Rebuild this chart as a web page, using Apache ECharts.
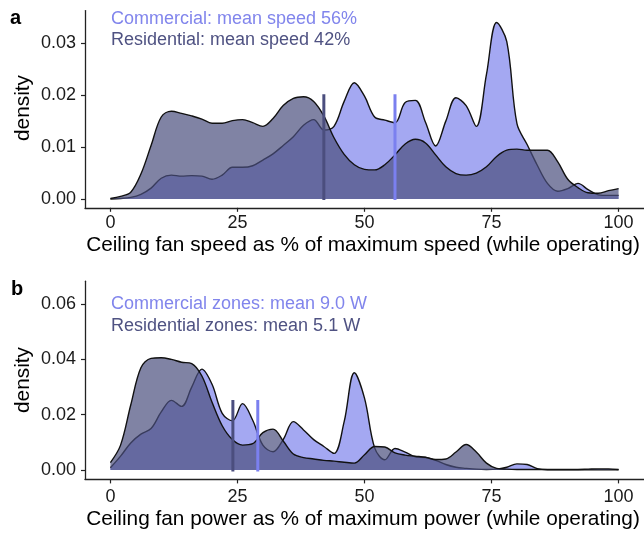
<!DOCTYPE html>
<html>
<head>
<meta charset="utf-8">
<script src="https://cdn.jsdelivr.net/npm/echarts@6/dist/echarts.min.js"></script>
<style>html,body{margin:0;padding:0;background:#fff}#c{width:644px;height:536px}</style>
</head>
<body>
<div id="c"></div>
<script>
// x positions (% of maximum) at which densities were read
const xs = [0,2,4,6,8,10,12,14,16,18,20,22,24,26,28,30,32,34,36,38,40,42,44,46,48,50,
  52,54,56,58,60,62,64,66,68,70,72,74,76,78,80,82,84,86,88,90,92,94,96,98,100];

// Panel a: speed densities
const comSpeed = [0,0.0001,0.0003,0.0009,0.0021,0.0040,0.0046,0.0044,0.0045,0.0044,0.0038,
  0.0046,0.0061,0.0061,0.0064,0.0075,0.0087,0.0103,0.0120,0.0142,0.0153,0.0133,0.0140,0.0188,
  0.0224,0.0198,0.0158,0.0152,0.0147,0.0186,0.0190,0.0148,0.0102,0.0150,0.0195,0.0180,0.0140,
  0.0240,0.0340,0.0303,0.0145,0.0105,0.0065,0.0030,0.0015,0.0020,0.0030,0.0018,0.0008,0.0007,0.0007];
const resSpeed = [0.0001,0.0005,0.0013,0.0048,0.0103,0.0158,0.0169,0.0165,0.0160,0.0154,0.0146,
  0.0146,0.0151,0.0153,0.0147,0.0140,0.0155,0.0180,0.0194,0.0197,0.0188,0.0160,0.0118,0.0086,
  0.0066,0.0057,0.0056,0.0066,0.0085,0.0106,0.0115,0.0108,0.0085,0.0062,0.0049,0.0046,0.0050,
  0.0062,0.0082,0.0094,0.0096,0.0094,0.0094,0.0094,0.0072,0.0038,0.0022,0.0012,0.0011,0.0016,0.0020];

// Panel b: power densities
const comPower = [0.0008,0.0050,0.0098,0.0130,0.0150,0.0210,0.0252,0.0230,0.0300,0.0365,0.0310,
  0.0205,0.0178,0.0240,0.0180,0.0090,0.0066,0.0110,0.0175,0.0145,0.0110,0.0085,0.0060,0.0175,
  0.0352,0.0260,0.0080,0.0037,0.0078,0.0065,0.0048,0.0045,0.0035,0.0020,0.0010,0.0006,0.0003,
  0.0002,0.0003,0.0010,0.0022,0.0020,0.0005,0.0001,0.0001,0.0001,0.0001,0.0001,0.0001,0.0001,0.0001];
const resPower = [0.0027,0.0090,0.0235,0.0370,0.0404,0.0406,0.0400,0.0390,0.0385,0.0340,0.0245,
  0.0160,0.0110,0.0090,0.0095,0.0135,0.0148,0.0105,0.0058,0.0045,0.0040,0.0035,0.0032,0.0028,
  0.0025,0.0055,0.0085,0.0083,0.0062,0.0054,0.0050,0.0046,0.0038,0.0040,0.0065,0.0092,0.0065,
  0.0025,0.0006,0.0003,0.0002,0.0002,0.0002,0.0002,0.0002,0.0002,0.0002,0.0003,0.0004,0.0004,0.0002];

// mean marker positions
const meanSpeed = {com: 56, res: 42, top: 0.0202};
const meanPower = {com: 29, res: 24.1, top: 0.0253};

const xTicks = [0,25,50,75,100];
const yTicksA = [0,0.01,0.02,0.03];
const yTicksB = [0,0.02,0.04,0.06];

const legendA = ['Commercial: mean speed 56%','Residential: mean speed 42%'];
const legendB = ['Commercial zones: mean 9.0 W','Residential zones: mean 5.1 W'];
const titleA = 'Ceiling fan speed as % of maximum speed (while operating)';
const titleB = 'Ceiling fan power as % of maximum power (while operating)';

const FONT = '"Liberation Sans", Arial, Helvetica, sans-serif';
const COM = '#7e83ec', RES = '#4a4e7d';
const COM_TXT = '#8185ec', RES_TXT = '#4f5282';

function pairs(ys){ return xs.map((x,i)=>[x, ys[i]]); }

function xAxis(g, margin){
  return {type:'value', gridIndex:g, min:-5, max:105,
    axisLine:{show:true, onZero:false, lineStyle:{color:'#222', width:1.3}},
    axisTick:{show:true, customValues:xTicks, length:4, lineStyle:{color:'#222', width:1.2}},
    axisLabel:{customValues:xTicks, margin:margin, color:'#1a1a1a', fontSize:18, fontFamily:FONT},
    splitLine:{show:false}};
}
function yAxis(g,min,max,ticks){
  return {type:'value', gridIndex:g, min:min, max:max,
    axisLine:{show:true, onZero:false, lineStyle:{color:'#222', width:1.3}},
    axisTick:{show:true, customValues:ticks, length:4, lineStyle:{color:'#222', width:1.2}},
    axisLabel:{customValues:ticks, margin:9, color:'#1a1a1a', fontSize:18, fontFamily:FONT,
      formatter:v=>v.toFixed(2)},
    splitLine:{show:false}};
}
function dens(name, ys, color, g, z){
  return {name:name, type:'line', xAxisIndex:g, yAxisIndex:g, data:pairs(ys),
    smooth:0.35, showSymbol:false, symbol:'none', z:z,
    lineStyle:{color:'#111', width:1.4},
    areaStyle:{color:color, opacity:0.7, origin:'auto'}, silent:true};
}
function meanLine(x, top, color, g, bottom){
  return {type:'line', xAxisIndex:g, yAxisIndex:g, data:[[x,bottom],[x,top]],
    showSymbol:false, symbol:'none', z:10, silent:true,
    lineStyle:{color:color, width:3, cap:'butt'}};
}
function txt(x,y,text,size,color,opts){
  opts = opts || {};
  const el = {type:'text', x:x, y:y, silent:true, z:100,
    style:{text:text, x:0, y:0, fontSize:size, fontFamily:FONT,
      fontWeight:opts.weight||'normal', fill:color,
      textAlign:opts.align||'left', textVerticalAlign:'middle',
      align:opts.align||'left', verticalAlign:'middle'}};
  if (opts.rotation) el.rotation = opts.rotation;
  return el;
}

const chart = echarts.init(document.getElementById('c'), null, {renderer:'canvas'});
chart.setOption({
  animation:false,
  backgroundColor:'#fff',
  grid:[
    {left:85, top:10.6, width:561, height:197.2},
    {left:85, top:281.2, width:561, height:198.2}
  ],
  xAxis:[xAxis(0,6), xAxis(1,9)],
  yAxis:[yAxis(0,-0.0017,0.0363,yTicksA), yAxis(1,-0.0034,0.0683,yTicksB)],
  series:[
    dens('Commercial', comSpeed, COM, 0, 2),
    dens('Residential', resSpeed, RES, 0, 3),
    meanLine(meanSpeed.res, meanSpeed.top, '#4b4e7e', 0, -0.0002),
    meanLine(meanSpeed.com, meanSpeed.top, '#7b80ef', 0, -0.0002),
    dens('Commercial zones', comPower, COM, 1, 2),
    dens('Residential zones', resPower, RES, 1, 3),
    meanLine(meanPower.res, meanPower.top, '#4b4e7e', 1, -0.0005),
    meanLine(meanPower.com, meanPower.top, '#7b80ef', 1, -0.0005)
  ],
  graphic:[
    txt(10,18,'a',20,'#000',{weight:'bold'}),
    txt(111,19,legendA[0],18,COM_TXT),
    txt(111,40,legendA[1],18,RES_TXT),
    txt(363,245,titleA,20.8,'#000',{align:'center'}),
    txt(23,108,'density',20.8,'#000',{align:'center', rotation:Math.PI/2}),
    txt(11,289,'b',20,'#000',{weight:'bold'}),
    txt(111,304,legendB[0],18,COM_TXT),
    txt(111,326,legendB[1],18,RES_TXT),
    txt(363,519,titleB,20.8,'#000',{align:'center'}),
    txt(23,380,'density',20.8,'#000',{align:'center', rotation:Math.PI/2})
  ]
});
</script>
</body>
</html>
